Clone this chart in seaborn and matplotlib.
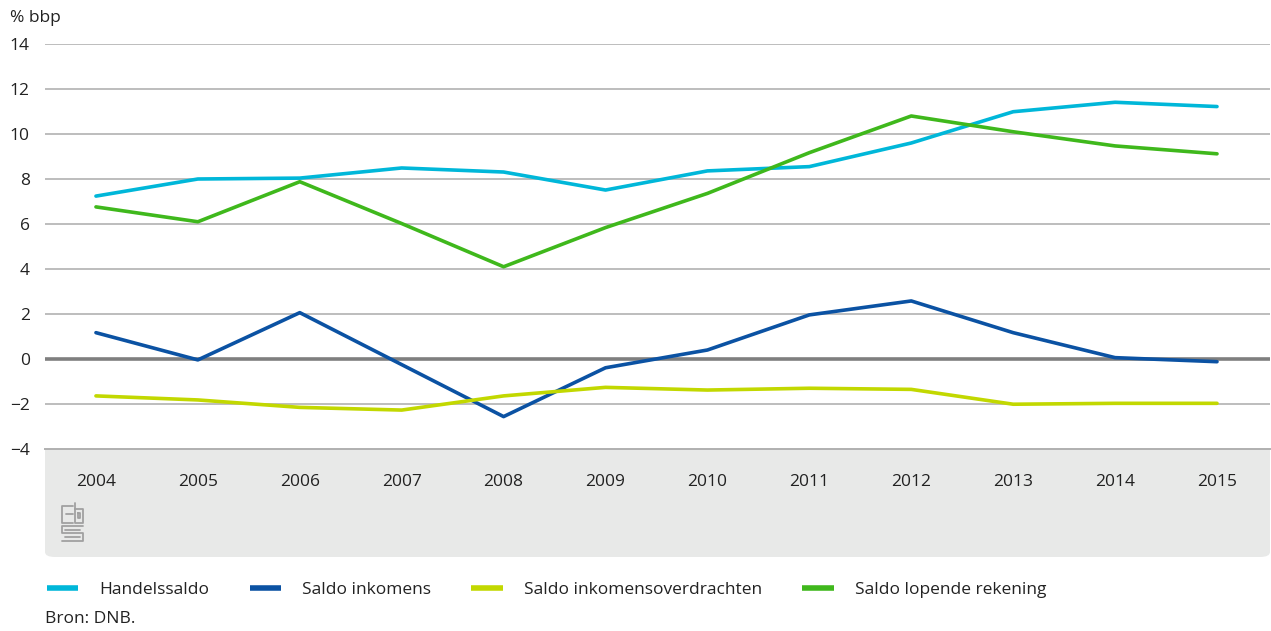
import pandas as pd
import seaborn as sns
import matplotlib.pyplot as plt
from matplotlib.patches import FancyBboxPatch
from matplotlib.lines import Line2D

# --- Data (% bbp) ---
years = [2004, 2005, 2006, 2007, 2008, 2009, 2010, 2011, 2012, 2013, 2014, 2015]
handelssaldo = [7.24, 8.0, 8.04, 8.49, 8.31, 7.51, 8.36, 8.55, 9.6, 10.99, 11.41, 11.22]
saldo_inkomens = [1.17, -0.04, 2.06, -0.25, -2.56, -0.39, 0.4, 1.96, 2.58, 1.17, 0.06, -0.12]
saldo_overdrachten = [-1.64, -1.82, -2.15, -2.27, -1.64, -1.26, -1.38, -1.3, -1.35, -2.01, -1.97, -1.97]
saldo_lopend = [6.76, 6.1, 7.88, 6.02, 4.1, 5.84, 7.36, 9.17, 10.8, 10.1, 9.47, 9.12]

series_names = ['Handelssaldo', 'Saldo inkomens', 'Saldo inkomensoverdrachten', 'Saldo lopende rekening']
series_colors = ['#00b7d9', '#0b52a3', '#c2d800', '#3fb81c']
y_ticks = [-4, -2, 0, 2, 4, 6, 8, 10, 12, 14]

df = pd.DataFrame({
    'jaar': years * 4,
    'waarde': handelssaldo + saldo_inkomens + saldo_overdrachten + saldo_lopend,
    'reeks': [n for n in series_names for _ in years],
})

sns.set_style('white')
plt.rcParams['font.family'] = ['Open Sans', 'DejaVu Sans']
plt.rcParams['font.size'] = 12

W, H = 1271, 631
fig = plt.figure(figsize=(W / 100, H / 100), dpi=100)
ax = fig.add_axes([45 / W, (H - 449) / H, (1270 - 45) / W, (449 - 44) / H])

# grey band under the x axis with rounded bottom corners
band = FancyBboxPatch((45 / W, (H - 557) / H), (1270 - 45) / W, (557 - 420) / H,
                      boxstyle='round,pad=0,rounding_size=0.008',
                      transform=fig.transFigure, facecolor='#e8e9e8',
                      edgecolor='none', zorder=-5)
fig.patches.append(band)

sns.lineplot(data=df, x='jaar', y='waarde', hue='reeks', hue_order=series_names,
             palette=series_colors, linewidth=2.6, ax=ax, legend=False, zorder=3)

ax.set_xlim(2003.5, 2015.52)
ax.set_ylim(-4, 14)
ax.set_yticks(y_ticks)
ax.set_yticklabels([str(t).replace('-', '\u2212') for t in y_ticks])
ax.set_xticks(years)
ax.set_xticklabels([str(y) for y in years])
ax.set_xlabel('')
ax.set_ylabel('')

for t in y_ticks:
    if t == 0:
        ax.axhline(0, color='#7f7f7f', linewidth=2.6, zorder=2)
    elif t != -4:
        ax.axhline(t, color='#bdbdbd', linewidth=1.4, zorder=1)

for side in ['top', 'right', 'left']:
    ax.spines[side].set_visible(False)
ax.spines['bottom'].set_color('#b0b0b0')
ax.spines['bottom'].set_linewidth(1.4)

ax.tick_params(axis='y', length=0, pad=11, labelsize=12.5, colors='#222222')
ax.tick_params(axis='x', direction='out', length=8, width=1, color='#8c8c8c',
               pad=10, labelsize=12.5, labelcolor='#222222')

fig.text(10 / W, (H - 18) / H, '% bbp', fontsize=12.5, color='#222222', va='center')

# simplified CBS logo
logo = '#a0a0a0'
def seg(xs, ys):
    fig.add_artist(Line2D([x / W for x in xs], [(H - y) / H for y in ys],
                          color=logo, linewidth=1.3, transform=fig.transFigure))
seg([73, 62, 62, 73], [506, 506, 523, 523])
seg([66, 73], [514, 514])
seg([75, 75, 83, 83, 75], [503, 523, 523, 509, 509])
seg([78, 80, 80, 78, 78], [513, 513, 518, 518, 513])
seg([83, 62, 62, 83, 83, 62], [526, 526, 533, 533, 541, 541])
seg([80, 65], [529.5, 529.5])
seg([65, 80], [537, 537])

handles = [Line2D([0], [0], color=c, linewidth=4, solid_capstyle='butt') for c in series_colors]
fig.legend(handles, series_names, loc='center left',
           bbox_to_anchor=(31 / W, (H - 590) / H), ncol=4, frameon=False,
           handlelength=1.8, handletextpad=1.25, columnspacing=2.3,
           fontsize=12.5, labelcolor='#222222')

fig.text(45 / W, (H - 619) / H, 'Bron: DNB.', fontsize=12.5, color='#222222', va='center')

fig.savefig('out.png', dpi=100)
